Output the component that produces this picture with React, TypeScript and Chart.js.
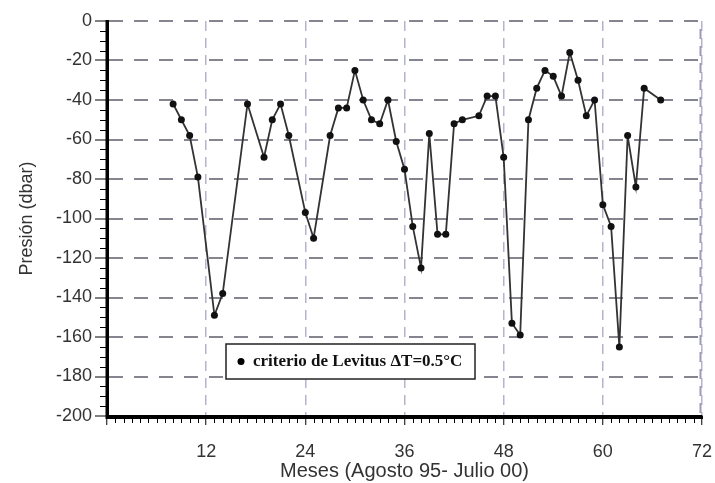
import { useEffect, useRef } from "react";
import { Chart, registerables } from "chart.js";

Chart.register(...registerables);

const months = [8, 9, 10, 11, 13, 14, 17, 19, 20, 21, 22, 24, 25, 27, 28, 29, 30, 31, 32, 33, 34, 35, 36, 37, 38, 39, 40, 41, 42, 43, 45, 46, 47, 48, 49, 50, 51, 52, 53, 54, 55, 56, 57, 58, 59, 60, 61, 62, 63, 64, 65, 67];
const pressure = [-42, -50, -58, -79, -149, -138, -42, -69, -50, -42, -58, -97, -110, -58, -44, -44, -25, -40, -50, -52, -40, -61, -75, -104, -125, -57, -108, -108, -52, -50, -48, -38, -38, -69, -153, -159, -50, -34, -25, -28, -38, -16, -30, -48, -40, -93, -104, -165, -58, -84, -34, -40];

const xMin = 0;
const xMax = 72;
const xStep = 12;
const yMin = -200;
const yMax = 0;
const yStep = 20;
const yMinorStep = 5;
const xMinorStep = 1;

const seriesLabel = "criterio de Levitus \u0394T=0.5\u00B0C";
const xTitle = "Meses (Agosto 95- Julio 00)";
const yTitle = "Presi\u00F3n (dbar)";

const axesAndMinorTicks = {
  id: "axesAndMinorTicks",
  afterDraw(chart: any) {
    const { ctx, chartArea, scales } = chart;
    const x = scales.x;
    const y = scales.y;
    ctx.save();
    // right-edge dashed grid line at the last x tick
    const rx = Math.round(chartArea.right) - 1.5;
    ctx.strokeStyle = "#9a9abb";
    ctx.lineWidth = 2;
    ctx.setLineDash([10, 7]);
    ctx.beginPath();
    ctx.moveTo(rx, chartArea.top + 8);
    ctx.lineTo(rx, chartArea.bottom - 2);
    ctx.stroke();

    ctx.strokeStyle = "#000";
    ctx.lineWidth = 1;
    ctx.setLineDash([]);
    ctx.beginPath();
    for (let v = yMin; v <= yMax; v += yMinorStep) {
      if (v % yStep === 0) continue;
      const py = Math.round(y.getPixelForValue(v)) + 0.5;
      ctx.moveTo(chartArea.left - 7, py);
      ctx.lineTo(chartArea.left, py);
    }
    for (let m = xMin; m <= xMax; m += xMinorStep) {
      if (m % xStep === 0) continue;
      const px = Math.round(x.getPixelForValue(m)) + 0.5;
      ctx.moveTo(px, chartArea.bottom);
      ctx.lineTo(px, chartArea.bottom + 7);
    }
    ctx.stroke();
    // solid thick axis lines
    ctx.lineWidth = 3;
    ctx.beginPath();
    ctx.moveTo(chartArea.left, chartArea.top - 1);
    ctx.lineTo(chartArea.left, chartArea.bottom + 1.5);
    ctx.lineTo(chartArea.right + 1, chartArea.bottom + 1.5);
    ctx.stroke();
    ctx.restore();
  },
};

const boxLegend = {
  id: "boxLegend",
  afterDraw(chart: any) {
    const { ctx } = chart;
    const label = chart.data.datasets[0].label;
    const bx = 226;
    const by = 344;
    const bw = 249;
    const bh = 35;
    ctx.save();
    ctx.setLineDash([]);
    ctx.fillStyle = "#fff";
    ctx.fillRect(bx, by, bw, bh);
    ctx.strokeStyle = "#222";
    ctx.lineWidth = 1.5;
    ctx.strokeRect(bx, by, bw, bh);
    ctx.fillStyle = "#000";
    ctx.beginPath();
    ctx.arc(bx + 15, by + 17.5, 3.5, 0, Math.PI * 2);
    ctx.fill();
    ctx.font = "bold 17px 'Liberation Serif', 'Times New Roman', serif";
    ctx.textBaseline = "middle";
    ctx.textAlign = "left";
    ctx.fillStyle = "#111";
    ctx.fillText(label, bx + 27, by + 18);
    ctx.restore();
  },
};

export default function App() {
  const ref = useRef<HTMLCanvasElement | null>(null);

  useEffect(() => {
    if (!ref.current) return;
    Chart.defaults.font.family = "'Liberation Sans', Arial, sans-serif";
    const chart = new Chart(ref.current, {
      type: "line",
      data: {
        datasets: [
          {
            label: seriesLabel,
            data: months.map((m, i) => ({ x: m, y: pressure[i] })),
            borderColor: "#333",
            borderWidth: 1.8,
            pointRadius: 3.5,
            pointBackgroundColor: "#111",
            pointBorderColor: "#111",
            pointBorderWidth: 0,
            tension: 0,
            fill: false,
          },
        ],
      },
      options: {
        animation: false,
        responsive: false,
        layout: { padding: { top: 21, right: 13, left: 0, bottom: 0 } },
        plugins: {
          legend: { display: false },
          tooltip: { enabled: false },
        },
        scales: {
          x: {
            type: "linear",
            min: xMin,
            max: xMax,
            afterFit: (s: any) => {
              s.height = 67;
              s.paddingRight = 0;
              s.paddingLeft = 0;
            },
            ticks: {
              stepSize: xStep,
              color: "#333",
              font: { size: 18 },
              padding: 16,
              maxRotation: 0,
              callback: (v: any) => (v === 0 ? "" : String(v)),
            },
            grid: {
              color: "#b4b4cc",
              lineWidth: 1.5,
              tickColor: "#000",
              tickWidth: 1,
              tickLength: 9,
              tickBorderDash: [],
            },
            border: { color: "#000", width: 3, dash: [10, 7] },
            title: {
              display: true,
              text: xTitle,
              color: "#333",
              font: { size: 20 },
              padding: { top: 0, bottom: 0 },
            },
          },
          y: {
            type: "linear",
            min: yMin,
            max: yMax,
            afterFit: (s: any) => {
              s.width = 107;
            },
            ticks: {
              stepSize: yStep,
              color: "#333",
              font: { size: 18 },
              padding: 3,
            },
            grid: {
              color: "#85858f",
              lineWidth: 2,
              tickColor: "#000",
              tickWidth: 1,
              tickLength: 12,
              tickBorderDash: [],
            },
            border: { color: "#000", width: 3, dash: [14, 11] },
            title: {
              display: true,
              text: yTitle,
              color: "#333",
              font: { size: 18 },
              padding: { top: 16, bottom: 0 },
            },
          },
        },
      },
      plugins: [axesAndMinorTicks, boxLegend],
    });
    return () => chart.destroy();
  }, []);

  return (
    <canvas
      ref={ref}
      width={715}
      height={483}
      style={{ position: "fixed", left: 0, top: 0, display: "block" }}
    />
  );
}
